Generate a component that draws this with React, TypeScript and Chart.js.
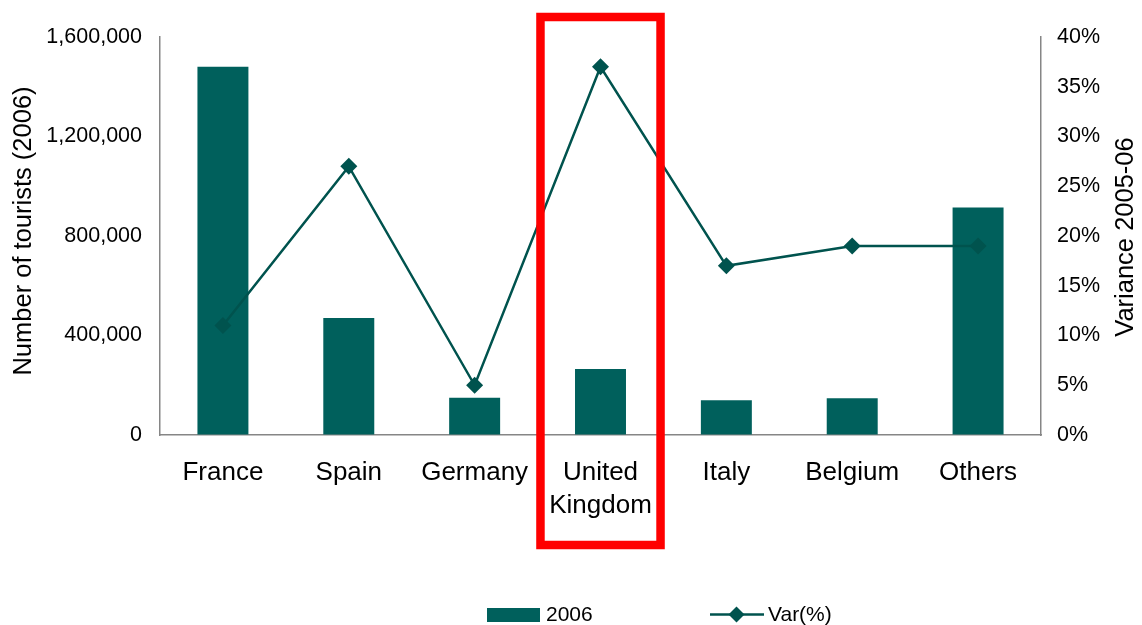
import React, { useEffect, useRef } from "react";
import { Chart, registerables } from "chart.js";

Chart.register(...registerables);

// Source markets and values
const categories: string[] = ["France", "Spain", "Germany", "United Kingdom", "Italy", "Belgium", "Others"];
const tourists2006: number[] = [1480000, 470000, 150000, 265000, 140000, 148000, 915000];
const variancePct: number[] = [11, 27, 5, 37, 17, 19, 19];
const highlightedCategory = "United Kingdom";

const leftTickValues: number[] = [0, 400000, 800000, 1200000, 1600000];
const rightTickValues: number[] = [0, 5, 10, 15, 20, 25, 30, 35, 40];

const BAR_COLOR = "#00605c";
const LINE_COLOR = "#00534e";
const AXIS_COLOR = "#868686";
const FONT = "'Liberation Sans', Arial, sans-serif";

function drawDiamond(ctx: CanvasRenderingContext2D, cx: number, cy: number, r: number) {
  ctx.beginPath();
  ctx.moveTo(cx, cy - r);
  ctx.lineTo(cx + r, cy);
  ctx.lineTo(cx, cy + r);
  ctx.lineTo(cx - r, cy);
  ctx.closePath();
  ctx.fill();
}

// Axis titles, highlight frame and legend drawn on top of the chart
const overlayPlugin = {
  id: "overlay",
  afterDraw(chart: any) {
    const ctx: CanvasRenderingContext2D = chart.ctx;
    const area = chart.chartArea;
    const xScale = chart.scales.x;
    const midY = (area.top + area.bottom) / 2;

    ctx.save();
    ctx.fillStyle = "#000";
    ctx.textAlign = "center";
    ctx.textBaseline = "middle";
    ctx.font = `25.5px ${FONT}`;

    ctx.save();
    ctx.translate(24, midY - 5);
    ctx.rotate(-Math.PI / 2);
    ctx.fillText("Number of tourists (2006)", 0, 0);
    ctx.restore();

    ctx.save();
    ctx.translate(1126, midY + 1);
    ctx.rotate(-Math.PI / 2);
    ctx.fillText("Variance 2005-06", 0, 0);
    ctx.restore();

    // Highlight frame around one category
    const idx = categories.indexOf(highlightedCategory);
    if (idx >= 0) {
      const cx = xScale.getPixelForValue(idx);
      const step = xScale.getPixelForValue(1) - xScale.getPixelForValue(0);
      const halfW = step * 0.477;
      ctx.strokeStyle = "#ff0000";
      ctx.lineWidth = 8.5;
      ctx.strokeRect(cx - halfW, area.top - 20, halfW * 2, area.bottom - area.top + 130);
    }

    // Legend
    ctx.font = `21px ${FONT}`;
    ctx.textAlign = "left";
    ctx.textBaseline = "middle";
    const ly = 615;
    ctx.fillStyle = BAR_COLOR;
    ctx.fillRect(487, 608, 53, 14);
    ctx.fillStyle = "#000";
    ctx.fillText(chart.data.datasets[0].label, 546, ly);

    ctx.strokeStyle = LINE_COLOR;
    ctx.lineWidth = 2.5;
    ctx.beginPath();
    ctx.moveTo(710, ly - 0.5);
    ctx.lineTo(764, ly - 0.5);
    ctx.stroke();
    ctx.fillStyle = LINE_COLOR;
    drawDiamond(ctx, 736.5, ly - 0.5, 8);
    ctx.fillStyle = "#000";
    ctx.fillText(chart.data.datasets[1].label, 768, ly);

    ctx.restore();
  },
};

export default function App() {
  const canvasRef = useRef<HTMLCanvasElement | null>(null);

  useEffect(() => {
    document.body.style.margin = "0";
    const canvas = canvasRef.current;
    if (!canvas) return;

    const chart = new Chart(canvas, {
      type: "bar",
      data: {
        labels: categories,
        datasets: [
          {
            type: "bar",
            label: "2006",
            data: tourists2006,
            backgroundColor: BAR_COLOR,
            yAxisID: "y",
            categoryPercentage: 1,
            barPercentage: 0.405,
            order: 2,
          },
          {
            type: "line",
            label: "Var(%)",
            data: variancePct,
            borderColor: LINE_COLOR,
            backgroundColor: LINE_COLOR,
            borderWidth: 2.5,
            pointStyle: "rectRot",
            pointRadius: 8.5,
            pointBorderWidth: 0,
            pointBackgroundColor: LINE_COLOR,
            yAxisID: "y2",
            tension: 0,
            order: 1,
          },
        ],
      },
      options: {
        responsive: false,
        animation: false,
        layout: { padding: { top: 37, bottom: 0, left: 0, right: 0 } },
        plugins: {
          legend: { display: false },
          tooltip: { enabled: false },
        },
        scales: {
          x: {
            grid: { drawOnChartArea: false, drawTicks: false },
            border: { display: true, color: AXIS_COLOR, width: 1.5 },
            ticks: {
              color: "#000",
              font: { family: FONT, size: 26, lineHeight: 1.27 },
              padding: 21,
              maxRotation: 0,
              autoSkip: false,
              callback: (_v: any, i: number) => {
                const label = categories[i];
                return label.includes(" ") ? label.split(" ") : label;
              },
            },
            afterFit: (scale: any) => {
              scale.height = 190;
            },
          },
          y: {
            position: "left",
            min: 0,
            max: 1600000,
            grid: { drawOnChartArea: false, drawTicks: false },
            border: { display: true, color: AXIS_COLOR, width: 1.5 },
            afterBuildTicks: (scale: any) => {
              scale.ticks = leftTickValues.map((v) => ({ value: v }));
            },
            ticks: {
              color: "#000",
              font: { family: FONT, size: 21.5 },
              padding: 18,
              callback: (v: any) => Number(v).toLocaleString("en-US"),
            },
            afterFit: (scale: any) => {
              scale.width = 160;
            },
          },
          y2: {
            position: "right",
            min: 0,
            max: 40,
            grid: { drawOnChartArea: false, drawTicks: false },
            border: { display: true, color: AXIS_COLOR, width: 1.5 },
            afterBuildTicks: (scale: any) => {
              scale.ticks = rightTickValues.map((v) => ({ value: v }));
            },
            ticks: {
              color: "#000",
              font: { family: FONT, size: 21.5 },
              padding: 16,
              callback: (v: any) => `${v}%`,
            },
            afterFit: (scale: any) => {
              scale.width = 101;
            },
          },
        },
      },
      plugins: [overlayPlugin],
    });

    return () => chart.destroy();
  }, []);

  return (
    <div style={{ width: 1142, height: 625, background: "#fff" }}>
      <canvas ref={canvasRef} width={1142} height={625} />
    </div>
  );
}
